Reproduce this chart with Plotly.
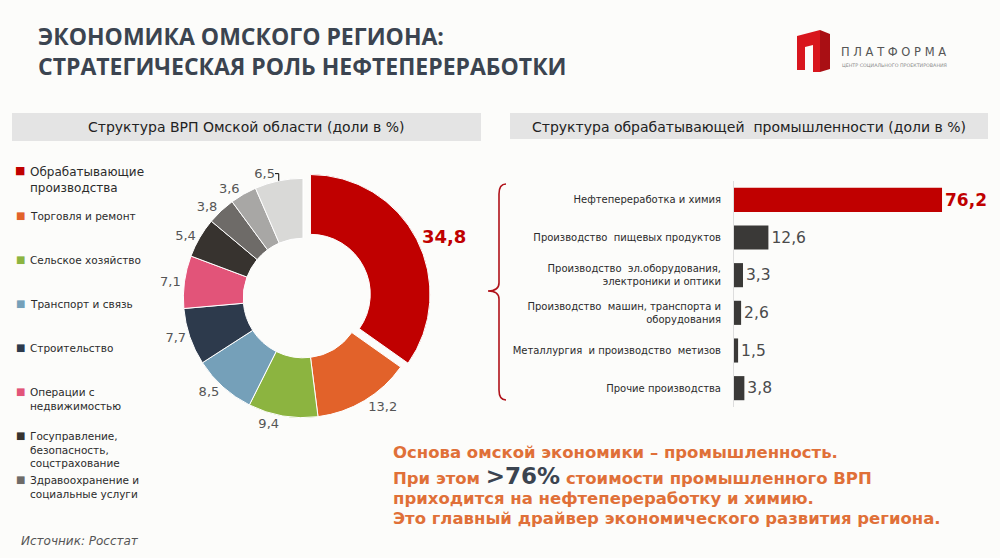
import plotly.graph_objects as go

W, H = 1000, 558

# ---------------- data ----------------
gvp_labels = [
    "Обрабатывающие<br>производства",
    "Торговля и ремонт",
    "Сельское хозяйство",
    "Транспорт и связь",
    "Строительство",
    "Операции с<br>недвижимостью",
    "Госуправление,<br>безопасность,<br>соцстрахование",
    "Здравоохранение и<br>социальные услуги",
    "Прочие (3,6)",
    "Прочие (6,5)",
]
gvp_values = [34.8, 13.2, 9.4, 8.5, 7.7, 7.1, 5.4, 3.8, 3.6, 6.5]
gvp_colors = ["#c00000", "#e2622a", "#8cb440", "#75a0b9", "#2d3a4c",
              "#e25479", "#37332f", "#6e6b68", "#a8a7a5", "#d9d9d7"]

ind_labels = [
    "Нефтепереработка и химия",
    "Производство  пищевых продуктов",
    "Производство  эл.оборудования,<br>электроники и оптики",
    "Производство  машин, транспорта и<br>оборудования",
    "Металлургия  и производство  метизов",
    "Прочие производства",
]
ind_values = [76.2, 12.6, 3.3, 2.6, 1.5, 3.8]
ind_colors = ["#c00000", "#3a3937", "#3a3937", "#3a3937", "#3a3937", "#3a3937"]

FONT = "DejaVu Sans"


def X(px):
    return px / W


def Y(py):
    return 1 - py / H


fig = go.Figure()

# ---------------- donut ----------------
cx, cy, R = 303, 298, 128
fig.add_trace(go.Pie(
    values=gvp_values,
    labels=gvp_labels,
    sort=False,
    direction="clockwise",
    rotation=0,
    hole=0.5,
    pull=[0.07] + [0] * (len(gvp_values) - 1),
    marker=dict(colors=gvp_colors, line=dict(color="#ffffff", width=1)),
    textposition="outside",
    texttemplate=["<b>%{value:.1f}</b>"] + ["%{value:.1f}"] * (len(gvp_values) - 1),
    textfont=dict(family=FONT,
                  size=[18] + [13] * (len(gvp_values) - 1),
                  color=["#c00000"] + ["#555555"] * (len(gvp_values) - 1)),
    domain=dict(x=[X(cx - R), X(cx + R)], y=[Y(cy + R), Y(cy - R)]),
    showlegend=False,
    hoverinfo="label+value",
    automargin=False,
))

# ---------------- bars ----------------
fig.add_trace(go.Bar(
    x=ind_values,
    y=ind_labels,
    orientation="h",
    marker=dict(color=ind_colors, line=dict(width=0)),
    width=0.64,
    texttemplate=["<b>%{x:.1f}</b>"] + ["%{x:.1f}"] * (len(ind_values) - 1),
    textposition="outside",
    cliponaxis=False,
    textfont=dict(family=FONT,
                  size=[17] + [15.5] * (len(ind_values) - 1),
                  color=["#c00000"] + ["#4a4a4a"] * (len(ind_values) - 1)),
    showlegend=False,
    xaxis="x", yaxis="y",
))

shapes = []
annotations = []


def note(text, px, py, size, color, family=FONT, xanchor="center", yanchor="middle", **kw):
    d = dict(text=text, x=X(px), y=Y(py), xref="paper", yref="paper",
             xanchor=xanchor, yanchor=yanchor, showarrow=False,
             font=dict(family=family, size=size, color=color))
    d.update(kw)
    annotations.append(d)


# header boxes
shapes.append(dict(type="rect", xref="paper", yref="paper",
                   x0=X(12), x1=X(481), y0=Y(141), y1=Y(113),
                   fillcolor="#e4e4e4", line=dict(width=0), layer="below"))
shapes.append(dict(type="rect", xref="paper", yref="paper",
                   x0=X(510), x1=X(988), y0=Y(139), y1=Y(113),
                   fillcolor="#e4e4e4", line=dict(width=0), layer="below"))
note("Структура ВРП Омской области (доли в %)", 246, 127, 14, "#222222")
note("Структура обрабатывающей  промышленности (доли в %)", 749, 127, 14, "#222222")

# title (one text block, two lines)
note("<b>ЭКОНОМИКА ОМСКОГО РЕГИОНА:<br>СТРАТЕГИЧЕСКАЯ РОЛЬ НЕФТЕПЕРЕРАБОТКИ</b>",
     36, 51, 23, "#3b4450", family="Open Sans", xanchor="left", align="left")


# logo
def poly(pts):
    return "M" + " L".join(f"{X(a):.5f},{Y(b):.5f}" for a, b in pts) + " Z"


shapes.append(dict(type="path", xref="paper", yref="paper",
                   path=poly([(820, 30), (830, 34), (830, 69), (820, 72)]),
                   fillcolor="#a90f14", line=dict(width=0)))
shapes.append(dict(type="path", xref="paper", yref="paper",
                   path=poly([(797, 36), (820, 30), (820, 72), (813, 72), (813, 45),
                              (805, 47), (805, 70), (797, 70)]),
                   fillcolor="#d8161d", line=dict(width=0)))
note("П Л А Т Ф О Р М А", 839, 52, 11.5, "#555555", xanchor="left")
note("ЦЕНТР СОЦИАЛЬНОГО ПРОЕКТИРОВАНИЯ", 840, 65, 4.8, "#888888", xanchor="left")

# legend (left)
leg_y = [171, 215, 259, 303, 347, 391, 435, 479]
for i, yy in enumerate(leg_y):
    big = (i == 0)
    fs = 12 if big else 10.5
    note("■", 20, yy, 11 if big else 10, gvp_colors[i])
    note(gvp_labels[i], 28, yy - fs * 0.65, fs, "#2b2b2b",
         xanchor="left", yanchor="top", align="left")

# brace
bx, btop, bbot, bmid = 503, 184, 400, 291
brace = (f"M{X(bx+3)},{Y(btop)} Q{X(bx-4)},{Y(btop)} {X(bx-4)},{Y(btop+10)} "
         f"L{X(bx-4)},{Y(bmid-8)} Q{X(bx-4)},{Y(bmid)} {X(bx-15)},{Y(bmid)} "
         f"Q{X(bx-4)},{Y(bmid)} {X(bx-4)},{Y(bmid+8)} "
         f"L{X(bx-4)},{Y(bbot-10)} Q{X(bx-4)},{Y(bbot)} {X(bx+3)},{Y(bbot)}")
shapes.append(dict(type="path", xref="paper", yref="paper", path=brace,
                   line=dict(color="#b0121a", width=1.6)))

# conclusion text
OR = "#e07038"
FS = 16.5
note("<b>Основа омской экономики – промышленность.</b>", 391, 452, FS, OR, xanchor="left")
note("<b>При этом <span style='font-size:23px;color:#3b4450'>&gt;76%</span>"
     " стоимости промышленного ВРП</b>", 391, 476, FS, OR, xanchor="left")
note("<b>приходится на нефтепереработку и химию.</b>", 391, 499, FS, OR, xanchor="left")
note("<b>Это главный драйвер экономического развития региона.</b>", 391, 518, FS, OR,
     xanchor="left")

note("<i>Источник: Росстат</i>", 19, 541, 12, "#555555", xanchor="left")

fig.update_layout(
    width=W, height=H,
    margin=dict(l=0, r=0, t=0, b=0),
    paper_bgcolor="#fcfcfa",
    plot_bgcolor="rgba(0,0,0,0)",
    separators=", ",
    shapes=shapes,
    annotations=annotations,
    xaxis=dict(domain=[X(734), X(734) + 90 * 2.73 / W], range=[0, 90],
               showgrid=False, zeroline=False, showticklabels=False, showline=False,
               fixedrange=True),
    yaxis=dict(domain=[Y(407), Y(181)], autorange="reversed", type="category",
               showgrid=False, zeroline=False, showline=True, linecolor="#dddddd",
               linewidth=1, ticks="", ticklabelstandoff=10,
               tickfont=dict(family=FONT, size=10, color="#2b2b2b")),
    bargap=0.36,
)

fig.write_html("out.html",
               config={"displayModeBar": False},
               post_script="document.body.style.margin='0';document.body.style.padding='0';"
                           "document.body.style.background='#fcfcfa';")
